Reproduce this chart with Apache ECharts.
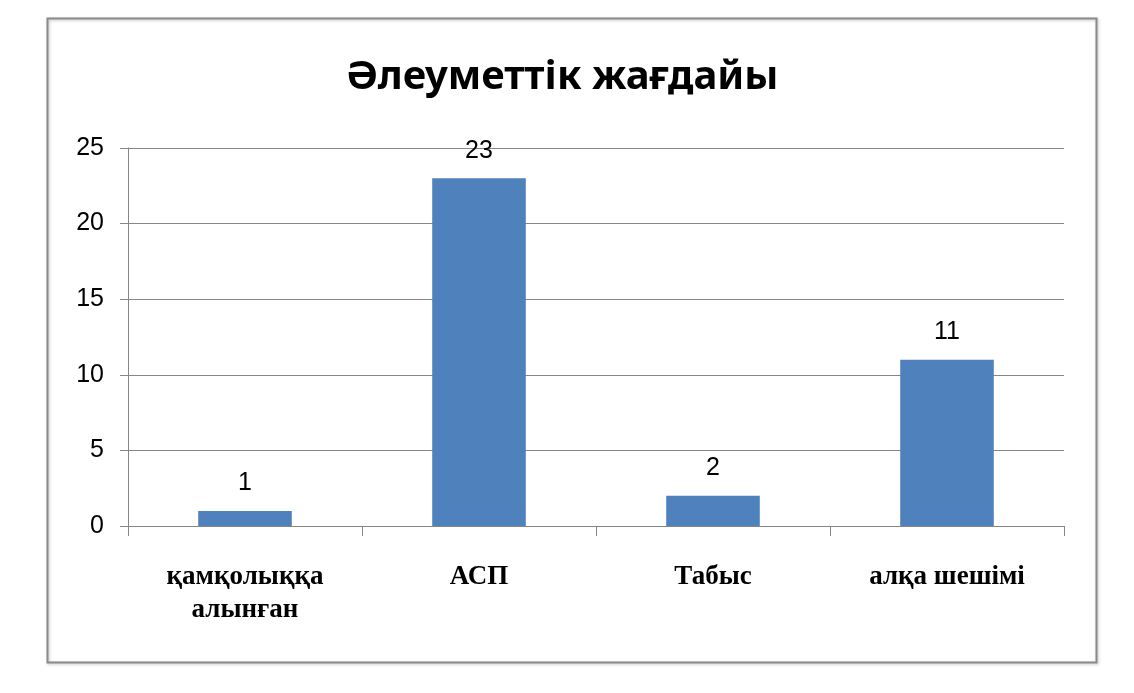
<!DOCTYPE html>
<html><head><meta charset="utf-8">
<script src="https://cdn.jsdelivr.net/npm/echarts@6/dist/echarts.min.js"></script>
<style>html,body{margin:0;padding:0;background:#fff}#c{width:1134px;height:693px}</style>
</head><body><div id="c"></div>
<script>
const titleText = 'Әлеуметтік жағдайы';
const categories = ['қамқолыққа\nалынған', 'АСП', 'Табыс', 'алқа шешімі'];
const values = [1, 23, 2, 11];
const yTicks = [0, 5, 10, 15, 20, 25];

const chart = echarts.init(document.getElementById('c'), null, {renderer: 'canvas'});
chart.setOption({
  backgroundColor: '#fff',
  animation: false,
  title: {
    text: titleText, left: 557, top: 53, textAlign: 'center',
    textStyle: {fontFamily: 'Noto Sans', fontWeight: 'bold', fontSize: 40, color: '#000'}
  },
  graphic: [{
    type: 'rect', left: 45, top: 16, z: -1,
    shape: {width: 1049, height: 644},
    style: {fill: 'none', stroke: '#8a8a8a', lineWidth: 2, shadowColor: 'rgba(0,0,0,0.25)', shadowBlur: 3, shadowOffsetX: 1, shadowOffsetY: 1}
  }],
  grid: {left: 128, right: 70, top: 148, bottom: 167},
  xAxis: {
    type: 'category', data: categories,
    axisLine: {lineStyle: {color: '#868686', width: 1}},
    axisTick: {show: true, length: 10, lineStyle: {color: '#868686'}},
    axisLabel: {margin: 35, fontFamily: 'Liberation Serif', fontWeight: 'bold', fontSize: 27, color: '#000', lineHeight: 33}
  },
  yAxis: {
    type: 'value', min: 0, max: yTicks[yTicks.length - 1], interval: 5,
    axisLine: {show: true, lineStyle: {color: '#868686'}},
    axisTick: {show: true, length: 8, inside: false, lineStyle: {color: '#868686'}},
    splitLine: {lineStyle: {color: '#868686', width: 1}},
    axisLabel: {margin: 24, fontFamily: 'Liberation Sans', fontSize: 25, color: '#000'}
  },
  series: [{
    type: 'bar', data: values, barWidth: '40%',
    itemStyle: {color: '#4F81BD'},
    label: {show: true, position: 'top', distance: 15, fontFamily: 'Liberation Sans', fontSize: 25, color: '#000'}
  }]
});
</script></body></html>
